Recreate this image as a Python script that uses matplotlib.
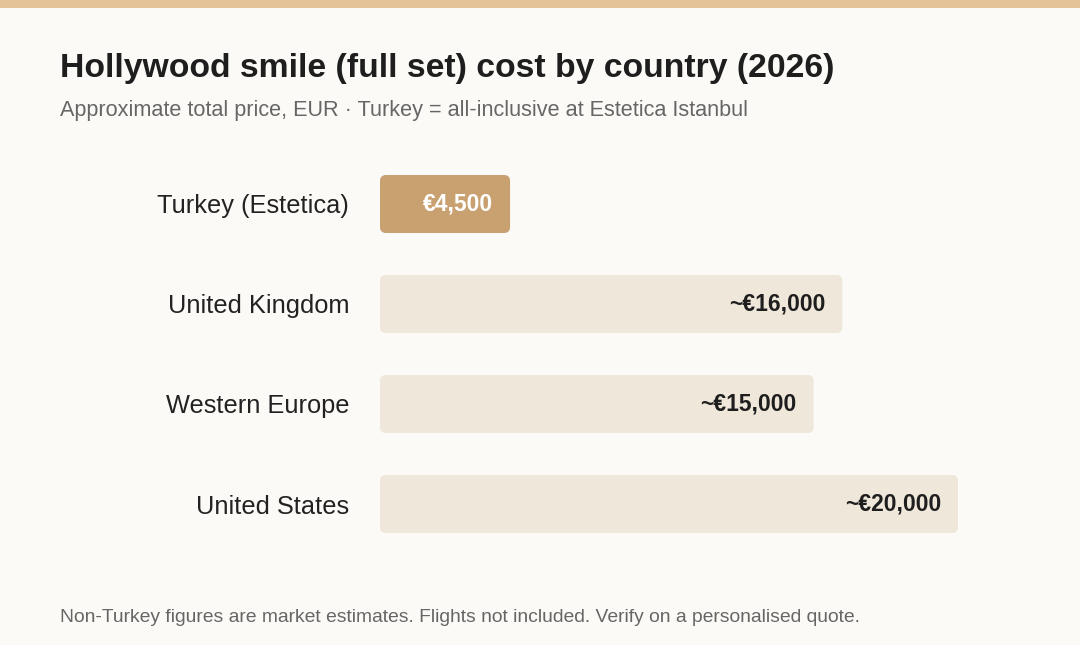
import matplotlib.pyplot as plt
from matplotlib.patches import FancyBboxPatch, Rectangle

# data
countries = ['Turkey (Estetica)', 'United Kingdom', 'Western Europe', 'United States']
prices = [4500, 16000, 15000, 20000]
value_labels = ['€4,500', '~€16,000', '~€15,000', '~€20,000']
highlight = [True, False, False, False]

W, H = 1080, 645
plt.rcParams['font.family'] = ['Liberation Sans', 'DejaVu Sans']

fig = plt.figure(figsize=(W / 100, H / 100), dpi=100)
fig.patch.set_facecolor('#fbfaf6')

# top accent stripe
fig.patches.append(Rectangle((0, 1 - 8 / H), 1, 8 / H, transform=fig.transFigure,
                             facecolor='#e4c399', edgecolor='none'))

fig.text(60 / W, 1 - 77 / H, 'Hollywood smile (full set) cost by country (2026)',
         fontsize=24.3, fontweight='bold', color='#1e1e1e', va='baseline', ha='left')
fig.text(60 / W, 1 - 116 / H, 'Approximate total price, EUR · Turkey = all-inclusive at Estetica Istanbul',
         fontsize=15.6, color='#666666', va='baseline', ha='left')
fig.text(60 / W, 1 - 622 / H, 'Non-Turkey figures are market estimates. Flights not included. Verify on a personalised quote.',
         fontsize=13.9, color='#666666', va='baseline', ha='left')

# axes: 380..958 px wide for 0..20000, rows 100 px apart
ax_left, ax_right = 380, 958
ax_top, ax_bottom = 154, 554
ax = fig.add_axes([ax_left / W, 1 - ax_bottom / H, (ax_right - ax_left) / W, (ax_bottom - ax_top) / H])
ax.set_xlim(0, 20000)
ax.set_ylim(len(countries) - 0.5, -0.5)
ax.set_facecolor('none')
for s in ax.spines.values():
    s.set_visible(False)
ax.set_xticks([])
ax.set_yticks(range(len(countries)))
ax.set_yticklabels(countries, fontsize=18.3, color='#222222')
ax.tick_params(axis='y', length=0, pad=31 * 0.72)

px_x = 20000 / (ax_right - ax_left)
px_y = len(countries) / (ax_bottom - ax_top)
bar_h = 58 * px_y
r = 6 * px_x
for i, (p, lab, hl) in enumerate(zip(prices, value_labels, highlight)):
    box = FancyBboxPatch((0, i - bar_h / 2), p, bar_h,
                         boxstyle=f'round,pad=0,rounding_size={r}',
                         mutation_aspect=px_y / px_x,
                         facecolor='#c9a171' if hl else '#efe7da', edgecolor='none')
    ax.add_patch(box)
    ax.text(p - 17 * px_x, i, lab, ha='right', va='center', fontsize=16.5,
            fontweight='bold', color='white' if hl else '#1e1e1e')

fig.savefig('out.png', dpi=100, facecolor=fig.get_facecolor())
